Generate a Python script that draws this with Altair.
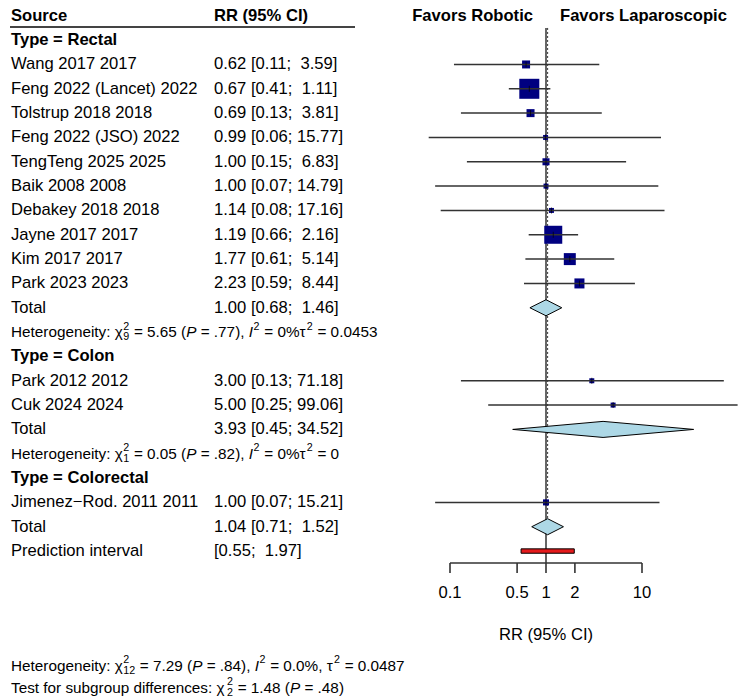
import altair as alt
import pandas as pd

# ---------------- data ----------------
study = ["Wang 2017 2017", "Feng 2022 (Lancet) 2022", "Tolstrup 2018 2018",
         "Feng 2022 (JSO) 2022", "TengTeng 2025 2025", "Baik 2008 2008",
         "Debakey 2018 2018", "Jayne 2017 2017", "Kim 2017 2017", "Park 2023 2023",
         "Park 2012 2012", "Cuk 2024 2024", "Jimenez\u2212Rod. 2011 2011"]
study_type = ["Rectal"] * 10 + ["Colon"] * 2 + ["Colorectal"]
rr = [0.62, 0.67, 0.69, 0.99, 1.00, 1.00, 1.14, 1.19, 1.77, 2.23, 3.00, 5.00, 1.00]
ci_lo = [0.11, 0.41, 0.13, 0.06, 0.15, 0.07, 0.08, 0.66, 0.61, 0.59, 0.13, 0.25, 0.07]
ci_hi = [3.59, 1.11, 3.81, 15.77, 6.83, 14.79, 17.16, 2.16, 5.14, 8.44, 71.18, 99.06, 15.21]
weight = [4.9, 30.6, 4.9, 1.9, 3.8, 1.9, 1.9, 24.8, 11.0, 7.7, 1.9, 1.9, 2.8]

type_order = ["Rectal", "Colon", "Colorectal"]
sub_types = ["Rectal", "Colon"]
sub_rr = [1.00, 3.93]
sub_lo = [0.68, 0.45]
sub_hi = [1.46, 34.52]
# rich text: (text, style) with style n=normal, i=italic, sup, ss=(sup, sub) stacked
sub_het = [
    [("Heterogeneity: \u03c7", "n"), (("2", "9"), "ss"), (" = 5.65 (", "n"), ("P", "i"),
     (" = .77), ", "n"), ("I", "i"), ("2", "sup"), (" = 0%\u03c4", "n"), ("2", "sup"),
     (" = 0.0453", "n")],
    [("Heterogeneity: \u03c7", "n"), (("2", "1"), "ss"), (" = 0.05 (", "n"), ("P", "i"),
     (" = .82), ", "n"), ("I", "i"), ("2", "sup"), (" = 0%\u03c4", "n"), ("2", "sup"),
     (" = 0", "n")],
]
bottom_text = [
    [("Heterogeneity: \u03c7", "n"), (("2", "12"), "ss"), (" = 7.29 (", "n"), ("P", "i"),
     (" = .84), ", "n"), ("I", "i"), ("2", "sup"), (" = 0.0%, \u03c4", "n"), ("2", "sup"),
     (" = 0.0487", "n")],
    [("Test for subgroup differences: \u03c7", "n"), (("2", "2"), "ss"), (" = 1.48 (", "n"),
     ("P", "i"), (" = .48)", "n")],
]

overall = [1.04, 0.71, 1.52]
pred = [0.55, 1.97]
tick_values = [0.1, 0.5, 1, 2, 10]
tick_labels = ["0.1", "0.5", "1", "2", "10"]

# ---------------- layout constants ----------------
W, H = 750, 698
X_ONE = 546.0      # pixel of RR = 1
DEC = 96.0         # pixels per decade
ROW0 = 15.8        # pixel y of header row
STEP = 24.33       # row height
AXIS_Y = 563
FONT = "Liberation Sans"
FS = 16.6
FS_SMALL = 15.3
SCRIPT = 0.7
DH = 0.33          # diamond half height (rows)

# approximate Arial / Liberation Sans advance widths (em)
_W = {" ": .278, "%": .889, "(": .333, ")": .333, ",": .278, ".": .278,
      ":": .278, ";": .278, "=": .584, "\u03c7": .52, "\u03c4": .44}
for ch in "0123456789":
    _W[ch] = .556
_W.update(dict(zip("ABCDEFGHIJKLMNOPQRSTUVWXYZ",
                   [.667, .667, .722, .722, .667, .611, .778, .722, .278, .5, .667, .556, .833,
                    .722, .778, .667, .778, .722, .667, .611, .722, .667, .944, .667, .667, .611])))
_W.update(dict(zip("abcdefghijklmnopqrstuvwxyz",
                   [.556, .556, .5, .556, .556, .278, .556, .556, .222, .222, .5, .222, .833,
                    .556, .556, .556, .556, .333, .5, .278, .556, .5, .722, .5, .5, .5])))


def tw(s, fs):
    return sum(_W.get(c, .556) for c in s) * fs


def rich(segments, x0, ypx, fs, out):
    x = x0
    for text, style in segments:
        if style == "ss":
            sup, sub = text
            out.append({"t": sup, "x": x + 0.5, "y": ypx, "s": "sup", "fs": fs * SCRIPT})
            out.append({"t": sub, "x": x + 0.5, "y": ypx, "s": "sub", "fs": fs * SCRIPT})
            x += max(tw(sup, fs * SCRIPT), tw(sub, fs * SCRIPT)) + 1
        elif style == "sup":
            out.append({"t": text, "x": x + 0.5, "y": ypx, "s": "sup", "fs": fs * SCRIPT})
            x += tw(text, fs * SCRIPT) + 1
        else:
            body = text.strip(" ")
            lead = len(text) - len(text.lstrip(" "))
            out.append({"t": body, "x": x + tw(" " * lead, fs), "y": ypx, "s": style, "fs": fs})
            x += tw(text, fs)


def fmt(e, l, h):
    pad = "\u00a0" if h < 10 else ""
    return f"{e:.2f} [{l:.2f}; {pad}{h:.2f}]"


row_px = lambda r: ROW0 + STEP * r

# build rows
label_rows, group_rows, study_rows, diamonds, segs = [], [], [], [], []
r = 1
for t in type_order:
    group_rows.append({"row": r, "label": f"Type = {t}"})
    r += 1
    for i, s in enumerate(study):
        if study_type[i] != t:
            continue
        label_rows.append({"row": r, "label": s, "ci": fmt(rr[i], ci_lo[i], ci_hi[i])})
        study_rows.append({"row": r, "rr": rr[i], "lo": ci_lo[i], "hi": ci_hi[i], "w": weight[i]})
        r += 1
    if t in sub_types:
        k = sub_types.index(t)
        label_rows.append({"row": r, "label": "Total", "ci": fmt(sub_rr[k], sub_lo[k], sub_hi[k])})
        diamonds += [
            {"id": t, "x": sub_lo[k], "y1": r, "y2": r},
            {"id": t, "x": sub_rr[k], "y1": r - DH, "y2": r + DH},
            {"id": t, "x": sub_hi[k], "y1": r, "y2": r},
        ]
        r += 1
        rich(sub_het[k], 11, row_px(r), FS_SMALL, segs)
        r += 1
total_row = r
label_rows.append({"row": r, "label": "Total", "ci": fmt(*overall)})
diamonds += [
    {"id": "all", "x": overall[1], "y1": r, "y2": r},
    {"id": "all", "x": overall[0], "y1": r - DH, "y2": r + DH},
    {"id": "all", "x": overall[2], "y1": r, "y2": r},
]
r += 1
pred_row = r
label_rows.append({"row": r, "label": "Prediction interval",
                   "ci": f"\u00a0\u00a0[{pred[0]:.2f}; \u00a0{pred[1]:.2f}]"})
rich(bottom_text[0], 11, 666, FS_SMALL, segs)
rich(bottom_text[1], 11, 688, FS_SMALL, segs)

df_labels = pd.DataFrame(label_rows)
df_groups = pd.DataFrame(group_rows)
df_segs = pd.DataFrame(segs)
df_study = pd.DataFrame(study_rows)
df_diam = pd.DataFrame(diamonds)
df_pred = pd.DataFrame({"lo": [pred[0]], "hi": [pred[1]], "row": [pred_row]})
df_ticks = pd.DataFrame({"t": tick_values, "lab": tick_labels})
df_axis = pd.DataFrame({"a": [min(tick_values)], "b": [max(tick_values)]})
df_one = pd.DataFrame({"v": [1.0], "r1": [0.5]})
df_dot = pd.DataFrame({"v": [overall[0]], "r1": [0.5], "r2": [total_row - DH]})
df_dummy = pd.DataFrame({"a": [0]})

xscale = alt.Scale(type="log", domain=[10 ** ((0 - X_ONE) / DEC), 10 ** ((W - X_ONE) / DEC)],
                   range=[0, W], nice=False)
yscale = alt.Scale(domain=[(0 - ROW0) / STEP, (H - ROW0) / STEP], range=[0, H],
                   nice=False, zero=False)

Y = lambda f: alt.Y(f, scale=yscale, axis=None)
X = lambda f: alt.X(f, scale=xscale, axis=None)

txt = dict(font=FONT, fontSize=FS, align="left", baseline="middle", color="black")

layers = []
# header
layers.append(alt.Chart(df_dummy).mark_text(**{**txt, "fontWeight": "bold"}, text="Source")
              .encode(x=alt.value(11), y=alt.value(ROW0)))
layers.append(alt.Chart(df_dummy).mark_text(**{**txt, "fontWeight": "bold"}, text="RR (95% CI)")
              .encode(x=alt.value(214), y=alt.value(ROW0)))
layers.append(alt.Chart(df_dummy).mark_rule(color="#444444", strokeWidth=2)
              .encode(x=alt.value(10), x2=alt.value(355), y=alt.value(27)))
layers.append(alt.Chart(df_dummy).mark_text(**{**txt, "fontWeight": "bold", "align": "right"},
                                             text="Favors Robotic")
              .encode(x=alt.value(533), y=alt.value(ROW0)))
layers.append(alt.Chart(df_dummy).mark_text(**{**txt, "fontWeight": "bold"},
                                             text="Favors Laparoscopic")
              .encode(x=alt.value(560), y=alt.value(ROW0)))
# text columns
layers.append(alt.Chart(df_groups).mark_text(**{**txt, "fontWeight": "bold"})
              .encode(x=alt.value(11), y=Y("row:Q"), text="label:N"))
layers.append(alt.Chart(df_labels).mark_text(**txt)
              .encode(x=alt.value(11), y=Y("row:Q"), text="label:N"))
layers.append(alt.Chart(df_labels).mark_text(**txt)
              .encode(x=alt.value(214), y=Y("row:Q"), text="ci:N"))
# rich text (heterogeneity notes)
for style, dy, fstyle in [("n", 0, "normal"), ("i", 0, "italic"),
                          ("sup", -0.36 * FS_SMALL, "normal"), ("sub", 0.33 * FS_SMALL, "normal")]:
    layers.append(alt.Chart(df_segs).transform_filter(alt.datum.s == style)
                  .mark_text(**{**txt, "fontStyle": fstyle, "dy": dy})
                  .encode(x=alt.X("x:Q", scale=None, axis=None),
                          y=alt.Y("y:Q", scale=None, axis=None),
                          size=alt.Size("fs:Q", scale=None, legend=None),
                          text="t:N"))
# reference lines
layers.append(alt.Chart(df_one).mark_rule(color="#333333", strokeWidth=1.5)
              .encode(x=X("v:Q"), y=Y("r1:Q"), y2=alt.value(AXIS_Y)))
layers.append(alt.Chart(df_dot).mark_rule(color="#333333", strokeWidth=1, strokeDash=[2, 2])
              .encode(x=X("v:Q"), y=Y("r1:Q"), y2="r2:Q"))
# squares, CIs, estimates
layers.append(alt.Chart(df_study).mark_square(color="#000080", opacity=1)
              .encode(x=X("rr:Q"), y=Y("row:Q"),
                      size=alt.Size("w:Q", scale=alt.Scale(domain=[0, max(weight)], range=[0, 400]),
                                    legend=None)))
layers.append(alt.Chart(df_study).mark_rule(color="#333333", strokeWidth=1.5)
              .encode(x=X("lo:Q"), x2="hi:Q", y=Y("row:Q")))
layers.append(alt.Chart(df_study).mark_tick(orient="vertical", size=6, thickness=1, color="black")
              .encode(x=X("rr:Q"), y=Y("row:Q")))
# diamonds
layers.append(alt.Chart(df_diam).mark_area(fill="#ADD8E6", stroke="black", strokeWidth=1,
                                           opacity=1, orient="vertical", interpolate="linear")
              .encode(x=X("x:Q"), y=Y("y1:Q"), y2="y2:Q", detail="id:N"))
# prediction interval
layers.append(alt.Chart(df_pred).transform_calculate(r1="datum.row - 0.09", r2="datum.row + 0.09")
              .mark_rect(fill="#E41A1C", stroke="black", strokeWidth=1)
              .encode(x=X("lo:Q"), x2="hi:Q", y=Y("r1:Q"), y2="r2:Q"))
# axis
layers.append(alt.Chart(df_axis).mark_rule(color="#333333", strokeWidth=1.6)
              .encode(x=X("a:Q"), x2="b:Q", y=alt.value(AXIS_Y)))
layers.append(alt.Chart(df_ticks).mark_rule(color="#333333", strokeWidth=1.6)
              .encode(x=X("t:Q"), y=alt.value(AXIS_Y), y2=alt.value(AXIS_Y + 10)))
layers.append(alt.Chart(df_ticks).mark_text(**{**txt, "align": "center"})
              .encode(x=X("t:Q"), y=alt.value(593), text="lab:N"))
layers.append(alt.Chart(df_one).mark_text(**{**txt, "align": "center"}, text="RR (95% CI)")
              .encode(x=X("v:Q"), y=alt.value(635)))

chart = (alt.layer(*layers)
         .properties(width=W, height=H, padding=0, autosize="none", background="white")
         .configure_view(strokeWidth=0))

chart.save("out.html", embed_options={"renderer": "svg", "actions": False})
